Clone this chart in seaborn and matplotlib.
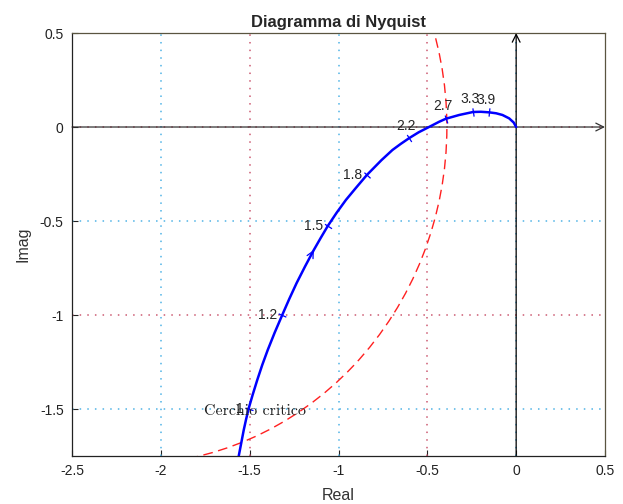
import numpy as np
import pandas as pd
import matplotlib
matplotlib.use("Agg")
import matplotlib.pyplot as plt
from matplotlib.patches import Circle
import seaborn as sns

# ---- data ----
curve_re = [-1.5616, -1.5475, -1.5335, -1.5205, -1.5065, -1.4828, -1.4575, -1.4294,
            -1.3984, -1.3590, -1.3168, -1.2774, -1.2358, -1.1885, -1.1390, -1.1002,
            -1.0608, -1.0113, -0.9584, -0.9004, -0.8402, -0.7580, -0.6961, -0.6500,
            -0.6021, -0.5487, -0.4907, -0.4333, -0.3956, -0.3208, -0.2420, -0.1987,
            -0.1519, -0.1125, -0.0771, -0.0394, -0.0141, 0.0]
curve_im = [-1.750, -1.681, -1.612, -1.556, -1.500, -1.423, -1.346, -1.266,
            -1.186, -1.093, -1.000, -0.915, -0.830, -0.742, -0.654, -0.590,
            -0.527, -0.457, -0.388, -0.322, -0.255, -0.176, -0.122, -0.090,
            -0.059, -0.028, 0.0, 0.028, 0.044, 0.064, 0.080, 0.081,
            0.078, 0.073, 0.064, 0.046, 0.024, 0.0]

omega_labels = ["1", "1.2", "1.5", "1.8", "2.2", "2.7", "3.3", "3.9"]
omega_re = [-1.5065, -1.3168, -1.0608, -0.8402, -0.6021, -0.3956, -0.2420, -0.1519]
omega_im = [-1.500, -1.000, -0.527, -0.255, -0.059, 0.044, 0.080, 0.078]

circle_center = (-2.186, 0.0)
circle_radius = 1.796
circle_label = "Cerchio critico"
circle_label_pos = (-1.756, -1.51)

arrow_tail = (-1.159, -0.690)
arrow_head = (-1.139, -0.654)

x_ticks = [-2.5, -2, -1.5, -1, -0.5, 0, 0.5]
y_ticks = [-1.5, -1, -0.5, 0, 0.5]
x_tick_labels = ["-2.5", "-2", "-1.5", "-1", "-0.5", "0", "0.5"]
y_tick_labels = ["-1.5", "-1", "-0.5", "0", "0.5"]

# ---- styling ----
sns.set_style("white")
plt.rcParams["font.family"] = ["Liberation Sans", "DejaVu Sans"]
plt.rcParams["axes.unicode_minus"] = False

fig = plt.figure(figsize=(6.23, 5.04), dpi=100)
ax = fig.add_axes([0.1156, 0.0952, 0.8555, 0.8393])
ax.set_xlim(-2.5, 0.5)
ax.set_ylim(-1.75, 0.5)

grid_blue = "#4fb3e6"
grid_red = "#cc5a72"
for i, xv in enumerate(x_ticks):
    if xv in (-2.5, 0.5):
        continue
    c = grid_blue if i % 2 == 1 else grid_red
    ax.axvline(xv, color=c, lw=1.1, ls=(0, (1, 4)), zorder=1)
for i, yv in enumerate(y_ticks):
    if yv == 0.5:
        continue
    c = grid_blue if i % 2 == 0 else grid_red
    ax.axhline(yv, color=c, lw=1.1, ls=(0, (1, 4)), zorder=1)

# axes through origin with open arrowheads
ax.annotate("", xy=(0.5, 0), xytext=(-2.5, 0),
            arrowprops=dict(arrowstyle="->", color="#333333", lw=0.9,
                            mutation_scale=14, shrinkA=0, shrinkB=0), zorder=2)
ax.annotate("", xy=(0, 0.5), xytext=(0, -1.75),
            arrowprops=dict(arrowstyle="->", color="black", lw=0.9,
                            mutation_scale=14, shrinkA=0, shrinkB=0), zorder=2)

# critical circle
circ = Circle(circle_center, circle_radius, fill=False, edgecolor="#ff2020",
              lw=1.0, ls=(0, (7, 4)), zorder=3)
ax.add_patch(circ)

# Nyquist curve
df = pd.DataFrame({"Real": curve_re, "Imag": curve_im})
sns.lineplot(data=df, x="Real", y="Imag", sort=False, estimator=None,
             color="#0000ff", lw=1.8, ax=ax, zorder=4)
for ln in ax.lines:
    ln.set_solid_joinstyle("round")
    ln.set_solid_capstyle("round")

# frequency tick marks perpendicular to curve
fig.canvas.draw()
pts = ax.transData.transform(np.column_stack([curve_re, curve_im]))
for xr, yi in zip(omega_re, omega_im):
    p = ax.transData.transform((xr, yi))
    d = np.hypot(pts[:, 0] - p[0], pts[:, 1] - p[1])
    k = int(np.argmin(d))
    k0, k1 = max(k - 1, 0), min(k + 1, len(pts) - 1)
    ang = np.degrees(np.arctan2(pts[k1, 1] - pts[k0, 1], pts[k1, 0] - pts[k0, 0]))
    ax.plot([xr], [yi], marker=(2, 0, ang), ms=6, mew=0.9, color="#0000ff", zorder=5)

# direction arrow on curve
ax.annotate("", xy=arrow_head, xytext=arrow_tail,
            arrowprops=dict(arrowstyle="->", color="#0000ff", lw=0.9,
                            mutation_scale=12, shrinkA=0, shrinkB=0), zorder=5)

# frequency labels
for lab, xr, yi in zip(omega_labels, omega_re, omega_im):
    if yi < -0.2:
        ax.annotate(lab, (xr, yi), xytext=(-3.5, 0), textcoords="offset points",
                    ha="right", va="center", fontsize=10, zorder=6)
    else:
        ax.annotate(lab, (xr, yi), xytext=(-2, 4), textcoords="offset points",
                    ha="center", va="bottom", fontsize=10, zorder=6)

ax.text(circle_label_pos[0], circle_label_pos[1], circle_label, family="cmr10",
        fontsize=11.5, ha="left", va="center", color="#222222", zorder=6)

ax.set_xticks(x_ticks)
ax.set_xticklabels(x_tick_labels)
ax.set_yticks(y_ticks)
ax.set_yticklabels(y_tick_labels)
ax.tick_params(direction="in", length=4, labelsize=10, colors="#222222",
               top=False, right=False, bottom=True, left=True, pad=6)
for s in ax.spines.values():
    s.set_color("#222222")
    s.set_linewidth(0.9)
ax.spines["top"].set_color("#5a5540")
ax.spines["right"].set_color("#5a5540")

ax.set_xlabel("Real", fontsize=11.5, color="#333333", labelpad=7)
ax.set_ylabel("Imag", fontsize=11.5, color="#333333", labelpad=7)
ax.set_title("Diagramma di Nyquist", fontsize=12, fontweight="bold", pad=4)

fig.savefig("out.png", dpi=100)
